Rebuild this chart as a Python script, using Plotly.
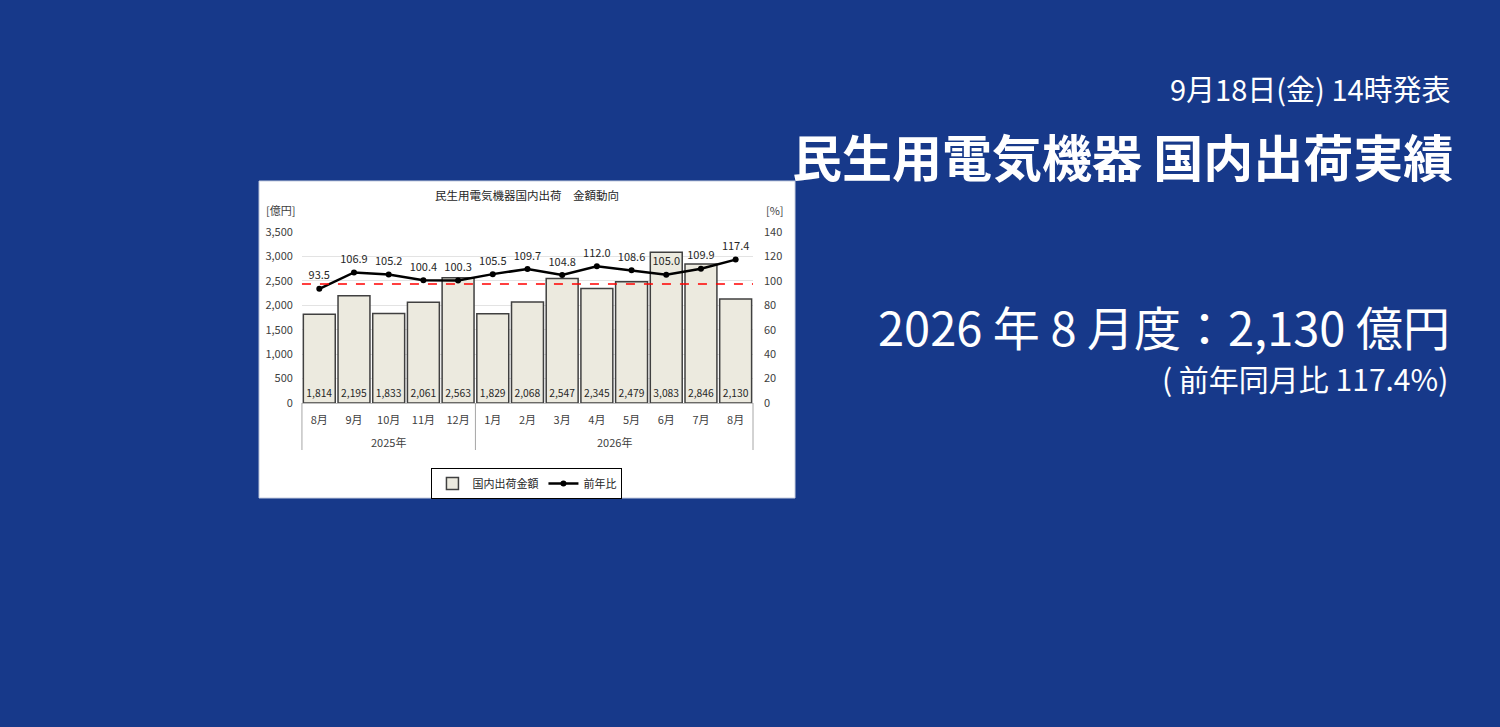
import plotly.graph_objects as go

# 民生用電気機器 国内出荷 金額動向
months = ["8月", "9月", "10月", "11月", "12月", "1月", "2月", "3月", "4月", "5月", "6月", "7月", "8月"]
years = ["2025年"] * 5 + ["2026年"] * 8
shipments = [1814, 2195, 1833, 2061, 2563, 1829, 2068, 2547, 2345, 2479, 3083, 2846, 2130]
yoy = [93.5, 106.9, 105.2, 100.4, 100.3, 105.5, 109.7, 104.8, 112.0, 108.6, 105.0, 109.9, 117.4]
ref_pct = 97.5  # red dashed reference line, as drawn

BG = "#17398a"
FONT = "Noto Sans CJK JP"
AXIS_TXT = "#404040"

# layout (paper fractions for a 1500x727 page)
PLOT_X = (0.2013, 0.502)
PLOT_Y = (0.4457, 0.6809)
BOX_X = (0.1727, 0.530)
BOX_Y = (0.315, 0.751)

n = len(months)
xs = list(range(n))


def xpaper(pos):
    return PLOT_X[0] + (pos + 0.5) / n * (PLOT_X[1] - PLOT_X[0])


fig = go.Figure()

fig.add_trace(go.Bar(
    x=xs, y=shipments, name="国内出荷金額",
    marker=dict(color="#eceadf", line=dict(color="#404040", width=1.5)),
    text=[f"{v:,}" for v in shipments], textposition="inside",
    insidetextanchor="start", textangle=0,
    textfont=dict(family=FONT, size=10.5, color="#262626"),
))
fig.add_trace(go.Scatter(
    x=xs, y=yoy, yaxis="y2", name="前年比", mode="lines+markers",
    line=dict(color="black", width=2.5), marker=dict(size=6, color="black"),
))
fig.add_trace(go.Scatter(
    x=xs, y=yoy, yaxis="y2", mode="markers+text", showlegend=False,
    text=[f"{v:.1f}" for v in yoy], textposition="top center",
    marker=dict(size=9, opacity=0), hoverinfo="skip",
    textfont=dict(family=FONT, size=11, color="#262626"),
))

shapes = [
    dict(type="rect", xref="paper", yref="paper", x0=BOX_X[0], x1=BOX_X[1],
         y0=BOX_Y[0], y1=BOX_Y[1], fillcolor="white",
         line=dict(color="#c8cfe0", width=1), layer="below"),
    dict(type="line", xref="paper", yref="y2", x0=PLOT_X[0], x1=PLOT_X[1],
         y0=ref_pct, y1=ref_pct, line=dict(color="#ff0000", width=1.5, dash="dash"),
         layer="above"),
]

# year group dividers + labels
bounds = [-0.5] + [i - 0.5 for i in range(1, n) if years[i] != years[i - 1]] + [n - 0.5]
for b in bounds:
    shapes.append(dict(type="line", xref="paper", yref="paper",
                       x0=xpaper(b), x1=xpaper(b), y0=0.381, y1=PLOT_Y[0],
                       line=dict(color="#a6a6a6", width=1)))

annotations = []
for a, b in zip(bounds[:-1], bounds[1:]):
    annotations.append(dict(x=xpaper((a + b) / 2), y=0.392, xref="paper", yref="paper",
                            xanchor="center", yanchor="middle",
                            text=years[int(a + 0.5)], showarrow=False,
                            font=dict(family=FONT, size=11, color=AXIS_TXT)))


def note(x, y, text, size, color, xanchor="center"):
    return dict(x=x, y=y, xref="paper", yref="paper", showarrow=False,
                xanchor=xanchor, yanchor="middle", text=text,
                font=dict(family=FONT, size=size, color=color))


annotations += [
    note(0.3513, 0.7318, "民生用電気機器国内出荷　金額動向", 11.5, "#262626"),
    note(0.1873, 0.711, "[億円]", 11, AXIS_TXT),
    note(0.5167, 0.711, "[%]", 11, AXIS_TXT),
    # right-hand headline texts
    note(0.9687, 0.879, "9月18日(金) 14時発表", 29, "white", "right"),
    note(0.9700, 0.787, "<b>民生用電気機器 国内出荷実績</b>", 50, "white", "right"),
    note(0.9680, 0.5516, "2026 年 8 月度：2,130 億円", 47, "white", "right"),
    note(0.9667, 0.480, "( 前年同月比 117.4%)", 30, "white", "right"),
]

fig.update_layout(
    width=1500, height=727,
    margin=dict(l=0, r=0, t=0, b=0, autoexpand=False),
    paper_bgcolor=BG, plot_bgcolor="white",
    font=dict(family=FONT, color=AXIS_TXT),
    bargap=0.08, showlegend=True,
    shapes=shapes, annotations=annotations,
    xaxis=dict(domain=list(PLOT_X), range=[-0.5, n - 0.5], tickvals=xs, ticktext=months,
               showline=True, linecolor="#bfbfbf", linewidth=1, showgrid=False,
               ticks="", ticklabelstandoff=7, tickfont=dict(size=11, color=AXIS_TXT),
               automargin=False),
    yaxis=dict(domain=list(PLOT_Y), range=[0, 3500], dtick=500, tickformat=",",
               showgrid=True, gridcolor="#e3e3e3", zeroline=False, ticks="",
               ticklabelstandoff=8, tickfont=dict(size=11, color=AXIS_TXT),
               automargin=False),
    yaxis2=dict(overlaying="y", side="right", range=[0, 140], dtick=20,
                showgrid=False, zeroline=False, ticks="", ticklabelstandoff=10,
                tickfont=dict(size=11, color=AXIS_TXT), automargin=False),
    legend=dict(x=0.3513, y=0.335, xanchor="center", yanchor="middle",
                orientation="h", bgcolor="white", bordercolor="black", borderwidth=1,
                font=dict(family=FONT, size=11, color="#262626"), itemwidth=30),
)

fig.write_html("out.html", config={"displayModeBar": False},
               post_script="document.body.style.margin='0';")
